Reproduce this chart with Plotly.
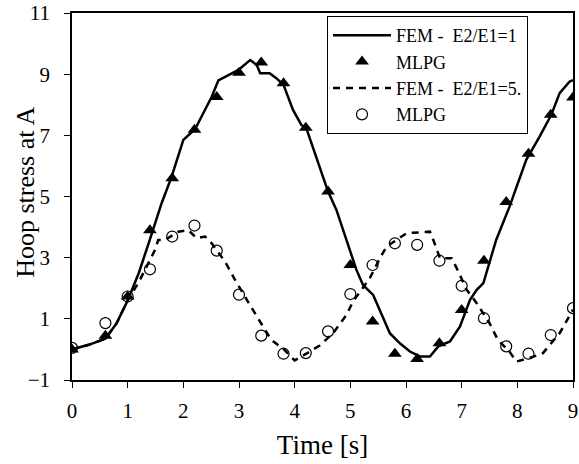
import plotly.graph_objects as go

# MLPG sample times
t_mlpg = [0.0, 0.6, 1.0, 1.4, 1.8, 2.2, 2.6, 3.0, 3.4, 3.8, 4.2, 4.6, 5.0, 5.4,
          5.8, 6.2, 6.6, 7.0, 7.4, 7.8, 8.2, 8.6, 9.0]
mlpg_e1 = [0.0, 0.45, 1.73, 3.9, 5.6, 7.18, 8.25, 9.05, 9.38, 8.7, 7.25, 5.16, 2.76, 0.91,
           -0.14, -0.31, 0.2, 1.29, 2.9, 4.82, 6.4, 7.67, 8.24]
mlpg_e5 = [0.05, 0.86, 1.73, 2.62, 3.69, 4.05, 3.23, 1.79, 0.45, -0.14, -0.12, 0.59, 1.81, 2.76,
           3.47, 3.42, 2.9, 2.08, 1.02, 0.1, -0.14, 0.47, 1.35]

# FEM E2/E1=1 curve
t_fem1 = [0.0, 0.3, 0.6, 0.8, 1.0, 1.2, 1.4, 1.61, 1.79, 2.0, 2.21, 2.51, 2.63, 2.99, 3.2,
          3.32, 3.38, 3.55, 3.67, 3.8, 3.97, 4.12, 4.21, 4.45, 4.6, 4.75, 4.99, 5.11, 5.23,
          5.41, 5.71, 5.89, 6.07, 6.25, 6.43, 6.58, 6.79, 6.97, 7.15, 7.27, 7.39, 7.5, 7.62,
          7.86, 8.16, 8.4, 8.61, 8.76, 8.94, 9.0]
fem_e1 = [0.0, 0.15, 0.35, 0.85, 1.6, 2.5, 3.6, 4.78, 5.65, 6.85, 7.2, 8.26, 8.8, 9.14, 9.46,
          9.3, 9.03, 9.03, 8.87, 8.65, 7.83, 7.34, 7.23, 5.98, 5.16, 4.56, 3.25, 2.6, 2.1,
          1.78, 0.53, 0.2, -0.07, -0.23, -0.23, 0.1, 0.26, 0.75, 1.62, 1.95, 2.17, 2.82, 3.58,
          4.67, 6.2, 6.96, 7.67, 8.38, 8.76, 8.8]

# FEM E2/E1=5 curve
t_fem5 = [0.0, 0.3, 0.6, 0.8, 1.0, 1.2, 1.49, 1.55, 1.67, 1.91, 2.09, 2.24, 2.39, 2.51,
          2.75, 2.93, 3.25, 3.43, 3.58, 3.79, 4.0, 4.21, 4.45, 4.69, 4.93, 5.05, 5.35, 5.53,
          5.65, 6.01, 6.43, 6.49, 6.61, 6.82, 6.91, 7.09, 7.27, 7.5, 7.65, 7.86, 7.98, 8.22,
          8.46, 8.76, 8.94, 9.0]
fem_e5 = [0.0, 0.15, 0.35, 0.85, 1.6, 2.2, 3.25, 3.58, 3.58, 3.85, 3.9, 3.64, 3.69, 3.47,
          2.87, 2.27, 1.29, 0.75, 0.31, 0.03, -0.36, -0.14, 0.13, 0.53, 1.13, 1.57, 2.33, 2.98,
          3.36, 3.8, 3.85, 3.58, 2.98, 2.98, 2.66, 1.95, 1.51, 0.86, 0.31, -0.07, -0.4, -0.28,
          -0.12, 0.53, 1.08, 1.3]

x_ticks = [0, 1, 2, 3, 4, 5, 6, 7, 8, 9]
y_ticks = [-1, 1, 3, 5, 7, 9, 11]

FONT = "Liberation Serif, Times New Roman, serif"

fig = go.Figure()
fig.add_trace(go.Scatter(x=t_fem1, y=fem_e1, mode="lines", name="FEM -  E2/E1=1",
                         line=dict(color="black", width=2.5), legendgroup="a"))
fig.add_trace(go.Scatter(x=t_mlpg, y=mlpg_e1, mode="markers", name="MLPG",
                         marker=dict(symbol="triangle-up", size=12, color="black"),
                         legendgroup="b"))
fig.add_trace(go.Scatter(x=t_fem5, y=fem_e5, mode="lines", name="FEM -  E2/E1=5.",
                         line=dict(color="black", width=2.5, dash="7px,6px"), legendgroup="c"))
fig.add_trace(go.Scatter(x=t_mlpg, y=mlpg_e5, mode="markers", name="MLPG",
                         marker=dict(symbol="circle-open", size=11, color="black",
                                     line=dict(width=1.2, color="black")),
                         legendgroup="d"))

fig.update_layout(
    width=579, height=464,
    margin=dict(l=72, r=6, t=13, b=84),
    plot_bgcolor="white", paper_bgcolor="white",
    font=dict(family=FONT, color="black", size=21),
    showlegend=True,
    legend=dict(x=0.509, y=0.992, xanchor="left", yanchor="top",
                bordercolor="black", borderwidth=1, bgcolor="white",
                font=dict(family=FONT, size=18), tracegroupgap=0, itemwidth=58),
    xaxis=dict(range=[0, 9], tickvals=x_ticks, ticks="outside", ticklen=6,
               tickcolor="black", showline=True, linecolor="black", linewidth=1.5,
               mirror=True, showgrid=False, zeroline=False, automargin=False,
               ticklabeloverflow="allow", ticklabelstandoff=5,
               title=dict(text="Time [s]", font=dict(size=27), standoff=13)),
    yaxis=dict(range=[-1, 11], tickvals=y_ticks, ticks="outside", ticklen=6,
               tickcolor="black", showline=True, linecolor="black", linewidth=1.5,
               mirror=True, showgrid=False, zeroline=False, automargin=False,
               ticklabeloverflow="allow", ticklabelstandoff=10),
    annotations=[dict(text="Hoop stress at A", textangle=-90, showarrow=False,
                      xref="paper", yref="paper", x=-0.0918, y=0.51,
                      xanchor="center", yanchor="middle",
                      font=dict(family=FONT, size=26, color="black"))],
)

fig.write_html("out.html", post_script="document.body.style.margin='0';",
               config={"displayModeBar": False})
